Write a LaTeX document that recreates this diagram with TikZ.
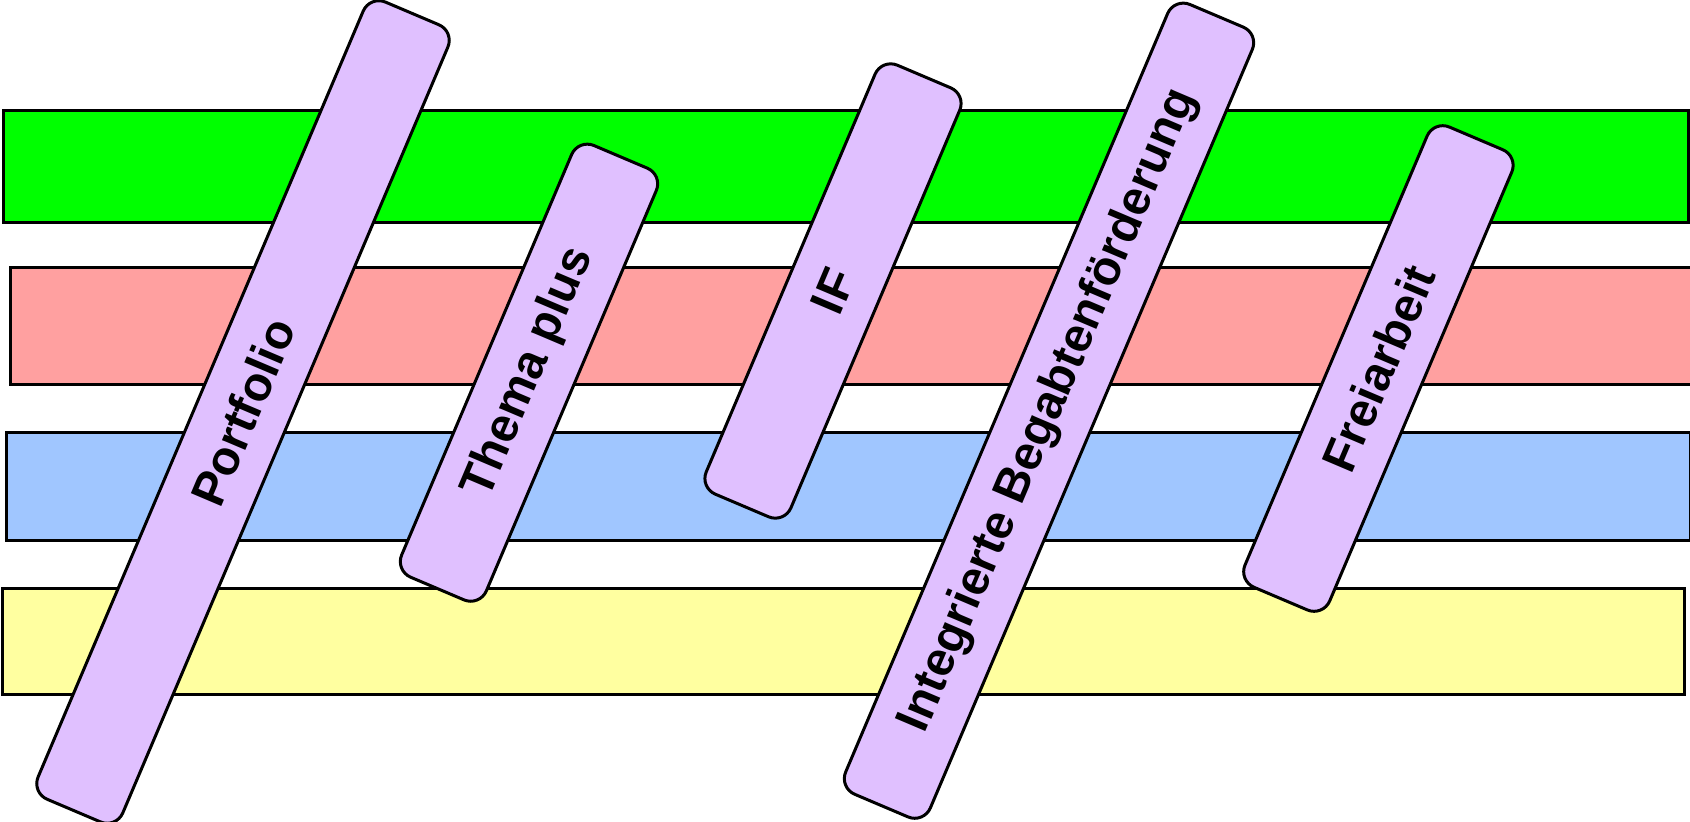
\documentclass[tikz,border=0pt]{standalone}
\usepackage{fontspec}
\setmainfont{Liberation Sans}
\usetikzlibrary{positioning}
\definecolor{bandgreen}{RGB}{0,255,0}
\definecolor{bandred}{RGB}{255,160,160}
\definecolor{bandblue}{RGB}{160,198,255}
\definecolor{bandyellow}{RGB}{255,255,160}
\definecolor{barlilac}{RGB}{224,192,255}
\tikzset{
	every node/.style={inner sep=0pt, line width=3pt},
	band/.style={draw, rectangle, anchor=north west},
	bar/.style={draw, fill=barlilac, rectangle, rounded corners=17pt, rotate=67,
		minimum height=92pt, font=\fontsize{48}{58}\selectfont\bfseries},
}

\begin{document}
\begin{tikzpicture}[x=1pt, y=-1pt]
	\useasboundingbox (0,0) rectangle (1690,822);
	% horizontal bands
	\node[band, fill=bandgreen, minimum width=1685pt, minimum height=112pt] (GREEN) at (2,109) {};
	\node[band, fill=bandred, minimum width=1690pt, minimum height=117pt] (RED) at (9,266) {};
	\node[band, fill=bandblue, minimum width=1684pt, minimum height=108pt] (BLUE) at (5,431) {};
	\node[band, fill=bandyellow, minimum width=1682pt, minimum height=106pt] (YELLOW) at (1,587) {};
	
	% tilted bars
	\node[bar, minimum width=866pt] (PORTFOLIO) at (243,412) {Portfolio};
	\node[bar, minimum width=469pt] (THEMA) at (529,372.7) {Thema plus};
	\node[bar, minimum width=466pt] (IF) at (833,291) {IF};
	\node[bar, minimum width=858pt] (IBF) at (1049,410.7) {Integrierte Begabtenförderung};
	\node[bar, minimum width=500pt] (FREI) at (1378.4,368.5) {Freiarbeit};
\end{tikzpicture}
\end{document}
